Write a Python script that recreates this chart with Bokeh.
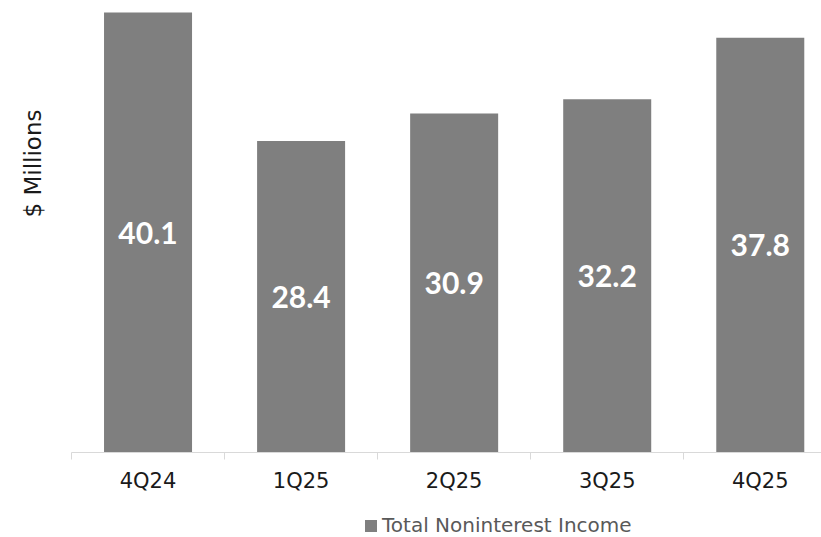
import math
from bokeh.plotting import figure
from bokeh.layouts import column, row
from bokeh.models import (ColumnDataSource, FixedTicker, Range1d, Legend, LegendItem, Label)
from bokeh.core.properties import value
from bokeh.embed import file_html
from bokeh.resources import INLINE

quarters = ["4Q24", "1Q25", "2Q25", "3Q25", "4Q25"]
income = [40.1, 28.4, 30.9, 32.2, 37.8]
series_name = "Total Noninterest Income"
y_label = "$ Millions"

FONT = "DejaVu Sans"
NUM_FONT = "Lato"
BAR = "#7f7f7f"

centers = [i + 0.5 for i in range(len(quarters))]
src = ColumnDataSource(dict(
    x=centers,
    top=income,
    mid=[v / 2 for v in income],
    txt=[f"{v:.1f}" for v in income],
))

# main chart
p = figure(width=750, height=495, output_backend="svg", toolbar_location=None,
           x_range=Range1d(0, 4.9), y_range=Range1d(0, 41.2),
           min_border_left=0, min_border_right=0, min_border_top=0,
           min_border_bottom=40)
p.outline_line_color = None
p.xgrid.visible = False
p.ygrid.visible = False
p.yaxis.visible = False

bars = p.vbar(x="x", top="top", width=0.575, bottom=0, source=src,
              fill_color=BAR, line_color=None)

p.text(x="x", y="mid", text="txt", source=src, text_align="center",
       text_baseline="middle", text_color="white",
       text_font=value(NUM_FONT), text_font_style="bold", text_font_size="30px")

ax = p.xaxis[0]
ax.ticker = FixedTicker(ticks=centers, minor_ticks=list(range(len(quarters) + 1)))
ax.major_label_overrides = {c: q for c, q in zip(centers, quarters)}
ax.major_tick_out = 0
ax.major_tick_in = 0
ax.minor_tick_out = 7
ax.minor_tick_in = 0
ax.minor_tick_line_color = "#d9d9d9"
ax.axis_line_color = "#d9d9d9"
ax.major_label_text_font = FONT
ax.major_label_text_font_size = "21px"
ax.major_label_text_color = "#1a1a1a"
ax.major_label_standoff = 9

# y-axis title strip on the left
py = figure(width=71, height=495, output_backend="svg", toolbar_location=None,
            x_axis_location=None, y_axis_location=None,
            min_border_left=0, min_border_right=0, min_border_top=0,
            min_border_bottom=0)
py.outline_line_color = None
py.xgrid.visible = False
py.ygrid.visible = False
py.add_layout(Label(x=32, y=289, x_units="screen", y_units="screen",
                    text=y_label, angle=math.pi / 2, text_align="center",
                    text_baseline="middle", text_font=FONT,
                    text_font_size="23px", text_color="#1a1a1a"))

# legend strip below (same series, drawn out of view so only its key shows)
pl = figure(width=821, height=42, output_backend="svg", toolbar_location=None,
            x_axis_location=None, y_axis_location=None,
            x_range=Range1d(0, 1), y_range=Range1d(1000, 1001),
            min_border_left=0, min_border_right=0, min_border_top=0,
            min_border_bottom=0)
pl.outline_line_color = None
pl.xgrid.visible = False
pl.ygrid.visible = False
key = pl.vbar(x="x", top="top", width=0.575, bottom=0, source=src,
              fill_color=BAR, line_color=None)
legend = Legend(items=[LegendItem(label=series_name, renderers=[key])],
                location=(363, 0), orientation="horizontal",
                glyph_width=15, glyph_height=15, label_standoff=4,
                label_text_font=FONT, label_text_font_size="20px",
                label_text_color="#595959", padding=0, margin=0,
                border_line_color=None, background_fill_alpha=0)
pl.add_layout(legend)

layout = column(row(py, p, spacing=0), pl, spacing=0)

open("out.html", "w").write(file_html(layout, INLINE))
